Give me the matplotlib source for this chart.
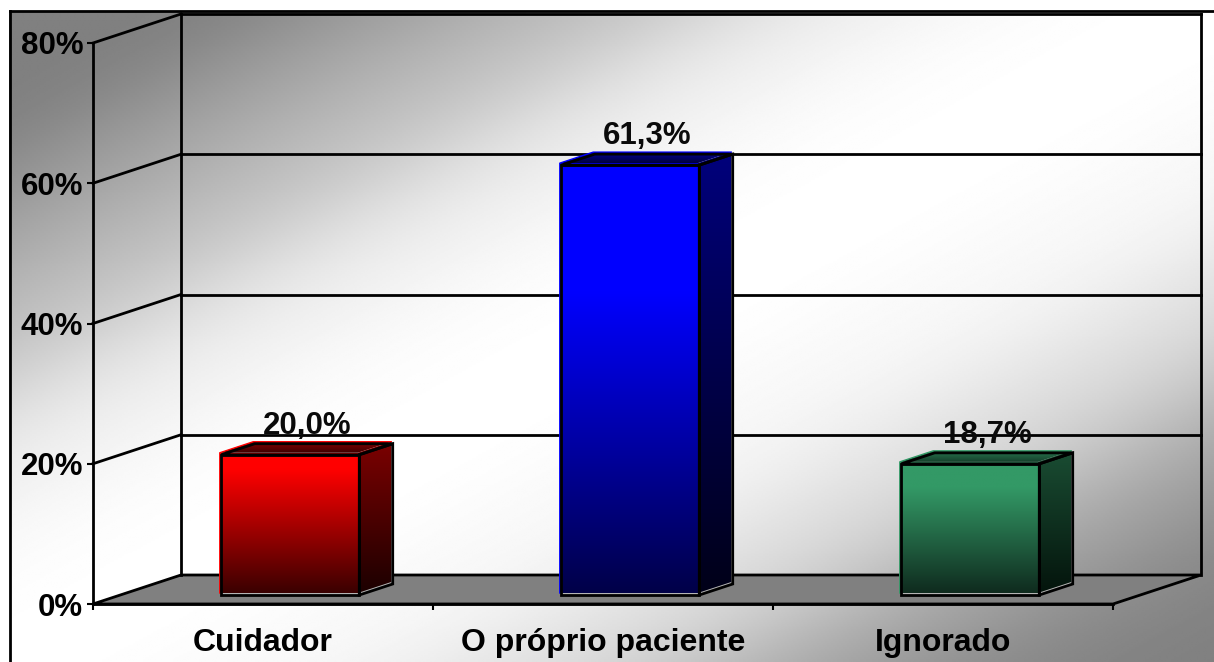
import numpy as np
import matplotlib
matplotlib.use("Agg")
import matplotlib.pyplot as plt
from matplotlib.colors import LinearSegmentedColormap
from matplotlib.patches import Polygon

categories = ["Cuidador", "O próprio paciente", "Ignorado"]
values = [20.0, 61.3, 18.7]
value_labels = ["20,0%", "61,3%", "18,7%"]
y_ticks = [0, 20, 40, 60, 80]
y_tick_labels = ["0%", "20%", "40%", "60%", "80%"]

W, H = 1214, 662
PX_X = 340.0         # pixels per category
PX_Y = 561 / 80.0    # pixels per percent
X0, Y0 = 93, 604     # pixel position of the origin

# oblique projection: full floor depth in data units
DEPTH_X = 88 / PX_X
DEPTH_Y = 29 / PX_Y
BAR_W = 138 / PX_X
BAR_D0, BAR_D1 = 0.31, 0.69
FILL_DX, FILL_DY = -1.5 / PX_X, 2 / PX_Y

# background grey level along the diagonal
bg_pos = [220, 460, 670, 800, 1000, 1160, 1300, 1580, 1750, 1870, 2000, 2120, 2235, 2390]
bg_grey = [128, 170, 203, 232, 250, 255, 255, 245, 225, 208, 176, 155, 138, 128]

plt.rcParams["font.family"] = ["Liberation Sans", "DejaVu Sans"]
plt.rcParams["font.weight"] = "bold"

fig = plt.figure(figsize=(W / 100, H / 100), dpi=100, facecolor="white")

bg = fig.add_axes([9 / W, 0, (W - 9) / W, (H - 11) / H])
bg.set_axis_off()
px, py = np.meshgrid(np.linspace(9, W, 600), np.linspace(11, H, 330))
# running mean takes the corners out of the grey ramp
ramp_x = np.arange(0, 2600)
ramp = np.interp(ramp_x, bg_pos, bg_grey)
kernel = np.ones(161) / 161
ramp = np.convolve(np.pad(ramp, 80, mode="edge"), kernel, mode="valid")
bg.imshow(np.interp(px + 1.83 * py, ramp_x, ramp), cmap="gray", vmin=0, vmax=255,
          aspect="auto", extent=(9, W, H, 11), interpolation="bilinear")

# main axes span the figure, data units are categories and percent
ax = fig.add_axes([0, 0, 1, 1])
ax.patch.set_alpha(0)
xlim = (-X0 / PX_X, (W - X0) / PX_X)
ylim = (-(H - Y0) / PX_Y, Y0 / PX_Y)


def project(x, y, depth):
    return x + depth * DEPTH_X, y + depth * DEPTH_Y


def face(points, **kw):
    poly = Polygon(points, closed=True, **kw)
    ax.add_patch(poly)
    return poly


def gradient_face(points, colors, zorder=3):
    # vertical gradient clipped to the polygon, first color at the top
    pts = np.array(points)
    poly = face(pts, facecolor="none", edgecolor="none", zorder=zorder)
    cmap = LinearSegmentedColormap.from_list("face", colors)
    img = ax.imshow(np.linspace(0, 1, 256).reshape(-1, 1), cmap=cmap, aspect="auto",
                    extent=(pts[:, 0].min(), pts[:, 0].max(), pts[:, 1].min(), pts[:, 1].max()),
                    origin="upper", zorder=zorder)
    img.set_clip_path(poly)


def shift(points):
    # fills sit slightly up and left of the outline
    return [(p[0] + FILL_DX, p[1] + FILL_DY) for p in points]


LW = 2.0

# floor
floor = [project(0, 0, 0), project(0, 0, 1), project(3, 0, 1), project(3, 0, 0)]
face(floor, facecolor="#808080", edgecolor="black", lw=LW, zorder=1)

# walls and gridlines
x_back, y_back = project(0, 0, 1)
x_end, _ = project(3, 0, 1)
for tick in y_ticks[1:]:
    ax.plot([0, x_back], [tick, tick + DEPTH_Y], color="black", lw=LW, zorder=1)
    ax.plot([x_back, x_end], [tick + DEPTH_Y, tick + DEPTH_Y], color="black", lw=LW, zorder=1)
top = y_ticks[-1] + DEPTH_Y
ax.plot([x_back, x_back], [y_back, top], color="black", lw=LW, zorder=1)
ax.plot([x_end, x_end], [y_back, top], color="black", lw=LW, zorder=1)

# bars: front, side and top faces
bar_colors = [
    ([(0, "#ff0000"), (0.12, "#ff0000"), (1, "#3a0000")], ["#7c0000", "#1c0000"], ["#8a0000", "#3c0000"]),
    ([(0, "#0000ff"), (0.3, "#0000ff"), (1, "#000048")], ["#00007c", "#000018"], ["#0000a0", "#00003c"]),
    ([(0, "#339966"), (0.2, "#339966"), (1, "#0f2b1e")], ["#1a4d33", "#04140c"], ["#2a7a52", "#15402b"]),
]
for i, (val, cols) in enumerate(zip(values, bar_colors)):
    left = i + 0.5 - BAR_W / 2
    right = i + 0.5 + BAR_W / 2
    fl = project(left, 0, BAR_D0)
    fr = project(right, 0, BAR_D0)
    br = project(right, 0, BAR_D1)
    tl = project(left, val, BAR_D0)
    tr = project(right, val, BAR_D0)
    bkr = project(right, val, BAR_D1)
    bkl = project(left, val, BAR_D1)

    # pale rim shows where the fill does not reach the outline
    face([fl, fr, br, bkr, tr, tl], facecolor="#b4b4b4", edgecolor="none", zorder=2.5)

    gradient_face(shift([tl, tr, bkr, bkl]), cols[2])
    gradient_face(shift([fr, br, bkr, tr]), cols[1])
    gradient_face(shift([fl, fr, tr, tl]), cols[0])

    # bright edge on the upper left of the fill
    ax.plot(*zip(*shift([fl, tl, bkl, bkr])), color=cols[0][0][1], lw=1, zorder=3.5)

    for pts in ([fl, fr, tr, tl], [fr, br, bkr, tr], [tl, tr, bkr, bkl]):
        face(pts, facecolor="none", edgecolor="black", lw=LW, joinstyle="miter", zorder=4)

    ax.text(i + 0.5 + (BAR_D0 + BAR_D1) / 2 * DEPTH_X, val + 3.3, value_labels[i],
            ha="center", va="bottom", fontsize=22.5, fontweight="bold", color="#0a0a0a", zorder=5)

# value axis and category axis
for side in ["top", "right"]:
    ax.spines[side].set_visible(False)
ax.spines["left"].set_position(("data", 0))
ax.spines["left"].set_bounds(0, 80)
ax.spines["bottom"].set_position(("data", 0))
ax.spines["bottom"].set_bounds(0, 3)
for side in ["left", "bottom"]:
    ax.spines[side].set_linewidth(LW)
    ax.spines[side].set_zorder(2)
ax.set_yticks(y_ticks)
ax.set_yticklabels(y_tick_labels, fontsize=22.5, fontweight="bold")
ax.set_xticks([0, 1, 2, 3])
ax.set_xticklabels([])
ax.set_xticks([0.5, 1.5, 2.5], minor=True)
ax.set_xticklabels(categories, minor=True, fontsize=23, fontweight="bold")
ax.tick_params(axis="y", direction="out", length=4, width=1.5, pad=3)
ax.tick_params(axis="x", which="major", direction="out", length=4, width=1.5)
ax.tick_params(axis="x", which="minor", length=0, pad=17)

# outer frame
frame_x = xlim[0] + 9.5 / PX_X
frame_y = ylim[1] - 11 / PX_Y
ax.plot([frame_x, frame_x], [ylim[0], frame_y], color="black", lw=2, zorder=6)
ax.plot([frame_x, xlim[1]], [frame_y, frame_y], color="black", lw=2, zorder=6)

ax.set_xlim(xlim)
ax.set_ylim(ylim)
ax.set_aspect("auto")

fig.savefig("out.png", dpi=100)
